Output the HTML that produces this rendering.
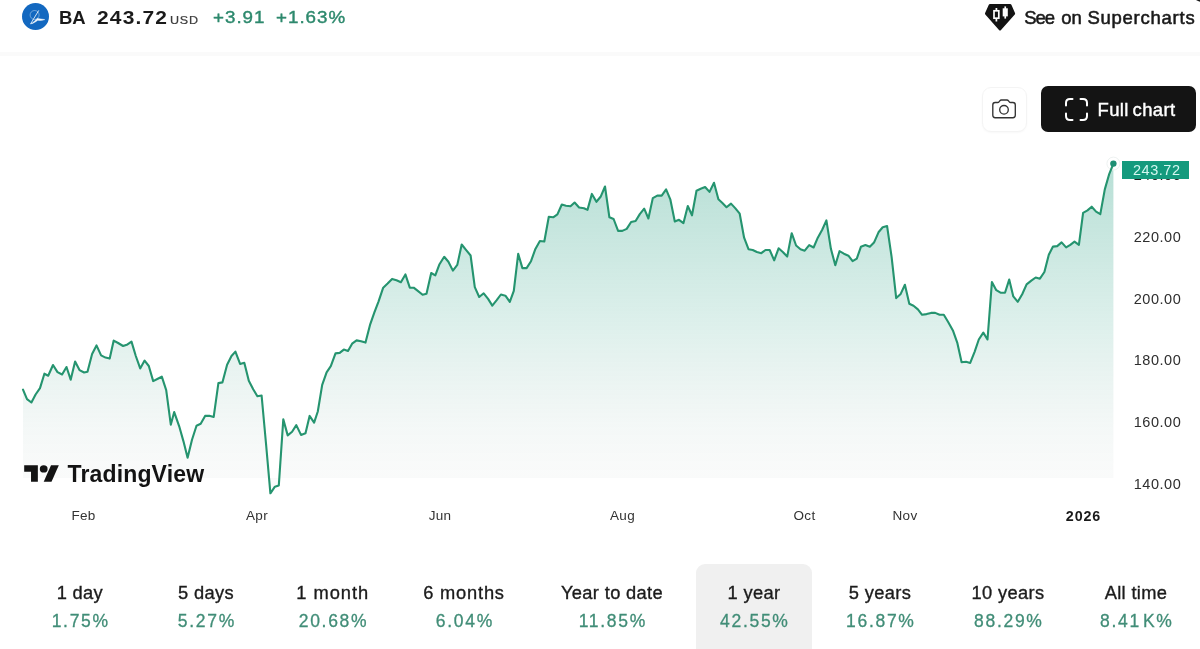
<!DOCTYPE html>
<html><head><meta charset="utf-8">
<style>
html,body{margin:0;padding:0;}
body{width:1200px;height:649px;position:relative;overflow:hidden;background:#fff;font-family:"Liberation Sans",sans-serif;color:#131313;}
.abs{position:absolute;}
#sep{left:0;top:52px;width:1200px;height:4px;background:#fafafa;}
#logo{left:22px;top:3.2px;width:27.2px;height:27.2px;border-radius:50%;background:#1368c0;}
#sym{left:59px;top:4.6px;font-size:18.5px;font-weight:700;line-height:26px;white-space:nowrap;color:#1a1a1a;}
#price{left:96.7px;top:4.6px;font-size:18.5px;font-weight:700;line-height:26px;letter-spacing:1.0px;transform:scaleX(1.135);transform-origin:0 0;white-space:nowrap;color:#1a1a1a;}
#usd{left:170px;top:11.6px;font-size:11px;line-height:16px;letter-spacing:0.7px;transform:scaleX(1.14);transform-origin:0 0;-webkit-text-stroke:0.2px #3c3c3c;color:#3c3c3c;white-space:nowrap;}
#chg{left:213px;top:5.6px;font-size:17px;line-height:24px;letter-spacing:0.9px;transform:scaleX(1.105);transform-origin:0 0;color:#2d896d;white-space:nowrap;-webkit-text-stroke:0.4px #2d896d;}
#chg2{left:276px;top:5.6px;font-size:17px;line-height:24px;letter-spacing:0.9px;transform:scaleX(1.105);transform-origin:0 0;color:#2d896d;white-space:nowrap;-webkit-text-stroke:0.4px #2d896d;}
.sos{top:6px;font-size:18.5px;line-height:24px;white-space:nowrap;color:#1a1a1a;-webkit-text-stroke:0.55px #1a1a1a;letter-spacing:0.4px;}
#cam{left:982px;top:86.5px;width:45px;height:45px;border-radius:9px;border:1px solid #f4f4f4;box-sizing:border-box;background:#fff;box-shadow:0 1px 2px rgba(0,0,0,0.03);}
#full{left:1041.3px;top:86.4px;width:154.5px;height:46px;border-radius:7px;background:#141414;}
#fulltxt{left:1097.5px;top:98px;font-size:18.5px;line-height:24px;color:#fff;white-space:nowrap;-webkit-text-stroke:0.4px #fff;letter-spacing:0.35px;word-spacing:-1.6px;}
#plabel{left:1122px;top:161px;width:66.5px;height:18px;background:#149a7d;color:#d4f7f0;font-size:14.5px;line-height:18.5px;text-align:center;letter-spacing:0.55px;padding-left:3px;box-sizing:border-box;}
.yl{position:absolute;left:1126.5px;width:62px;text-align:center;font-size:14.5px;line-height:20px;color:#2e2e2e;letter-spacing:0.55px;}
.xl{position:absolute;top:506px;width:60px;text-align:center;font-size:13.5px;line-height:20px;color:#333;letter-spacing:0.3px;}
#y2026{left:1053.5px;top:506px;width:60px;text-align:center;font-size:14.3px;font-weight:700;line-height:20px;color:#1a1a1a;letter-spacing:0.9px;}
#tvtxt{left:67.5px;top:460px;font-size:23px;font-weight:700;line-height:28px;white-space:nowrap;color:#131313;letter-spacing:0.15px;}
#selbox{left:696px;top:564px;width:116px;height:100px;border-radius:9px;background:#f0f0f0;}
.per{position:absolute;top:581px;width:140px;text-align:center;white-space:nowrap;}
.pl{font-size:18.3px;line-height:24px;color:#1c1c1c;-webkit-text-stroke:0.35px #1c1c1c;letter-spacing:0.35px;}
.pv{font-size:17.5px;line-height:24px;margin-top:4px;color:#418d77;letter-spacing:1.7px;padding-left:1.7px;-webkit-text-stroke:0.3px #418d77;}
#corner{left:1188px;top:-14px;width:30px;height:22px;border-radius:0 0 0 0;}
#wrap{position:absolute;left:0;top:0;width:1200px;height:649px;overflow:hidden;will-change:transform;transform:translateZ(0);}
</style></head><body><div id="wrap">
<div class="abs" id="sep"></div>
<div class="abs" id="logo"></div>
<svg class="abs" style="left:21.5px;top:3px" width="28" height="28" viewBox="0 0 28 28">
<circle cx="12.6" cy="12" r="4.5" fill="none" stroke="#fff" stroke-opacity="0.38" stroke-width="1"/>
<path d="M8.8 20.5 L16.6 7.7" fill="none" stroke="#fff" stroke-opacity="0.8" stroke-width="1" stroke-linecap="round"/>
<path d="M8.6 20.9 C11.4 19.6 13.4 17.2 15.4 15.2 C17.6 16 20.2 16 22.8 16.6 C20.2 17.6 17.8 17.6 15.8 17.2 C13.6 19 11.4 20.4 8.6 20.9 Z" fill="#fff" fill-opacity="0.95" stroke="#fff" stroke-width="0.5" stroke-opacity="0.8"/>
</svg>
<div class="abs" id="sym">BA</div>
<div class="abs" id="price">243.72</div>
<div class="abs" id="usd">USD</div>
<div class="abs" id="chg">+3.91</div>
<div class="abs" id="chg2">+1.63%</div>

<svg class="abs" style="left:984px;top:3px" width="34" height="30" viewBox="0 0 34 30">
<path d="M6 1.1 H26.2 Q27 1.1 27.4 1.8 L31 10 Q31.4 10.9 30.8 11.6 L17 26.9 Q16 27.9 15 26.9 L1.3 11.6 Q0.7 10.9 1.1 10 L4.8 1.8 Q5.2 1.1 6 1.1 Z" fill="#131313"/>
<rect x="10" y="7.8" width="4.8" height="7.4" fill="none" stroke="#fff" stroke-width="1.7"/>
<path d="M12.4 5 V7.8 M12.4 15.2 V18.4" stroke="#fff" stroke-width="1.7"/>
<rect x="18.7" y="5.3" width="5.1" height="8.1" fill="#fff"/>
<path d="M21.25 3.4 V15.6" stroke="#fff" stroke-width="1.7"/>
</svg>
<div class="abs sos" style="left:1024.3px;letter-spacing:-1.15px">See</div><div class="abs sos" style="left:1061.2px;letter-spacing:-0.1px">on</div><div class="abs sos" style="left:1087.4px;letter-spacing:0.75px">Supercharts</div>

<div class="abs" id="cam"></div>
<svg class="abs" style="left:990px;top:97px" width="29" height="25" viewBox="0 0 29 25">
<path d="M5.2 5.5 H7.6 Q8.6 5.5 9.2 4.6 L9.8 3.8 Q10.4 3 11.4 3 H16.9 Q17.9 3 18.5 3.8 L19.1 4.6 Q19.7 5.5 20.7 5.5 H22.9 Q25.3 5.5 25.3 7.9 V18.3 Q25.3 20.7 22.9 20.7 H5.2 Q2.8 20.7 2.8 18.3 V7.9 Q2.8 5.5 5.2 5.5 Z" fill="none" stroke="#333" stroke-width="1.35" stroke-linejoin="round"/>
<circle cx="14" cy="12.8" r="4.3" fill="none" stroke="#333" stroke-width="1.35"/>
</svg>
<div class="abs" id="full"></div>
<svg class="abs" style="left:1064px;top:97px" width="25" height="25" viewBox="0 0 25 25">
<path d="M2 8.5 V6 Q2 2 6 2 H8.5 M16.5 2 H19 Q23 2 23 6 V8.5 M23 16.5 V19 Q23 23 19 23 H16.5 M8.5 23 H6 Q2 23 2 19 V16.5" fill="none" stroke="#fff" stroke-width="2" stroke-linecap="round"/>
</svg>
<div class="abs" id="fulltxt">Full chart</div>

<svg class="abs" style="left:0;top:0" width="1200" height="649" viewBox="0 0 1200 649">
<defs>
<linearGradient id="g" gradientUnits="userSpaceOnUse" x1="0" y1="160" x2="0" y2="495">
<stop offset="0" stop-color="#1c9a7c" stop-opacity="0.32"/>
<stop offset="0.5" stop-color="#1c9a7c" stop-opacity="0.145"/>
<stop offset="0.8" stop-color="#4a8a7c" stop-opacity="0.06"/>
<stop offset="1" stop-color="#808a88" stop-opacity="0.03"/>
</linearGradient>
</defs>
<path d="M23.0,478 L23.0,389.7 L27.0,399.1 L31.4,402.5 L35.6,394.5 L40.0,388.1 L44.4,373.7 L48.2,375.7 L53.0,365.0 L57.5,372.1 L62.1,374.5 L66.5,367.0 L70.7,379.7 L75.1,361.6 L79.5,370.1 L84.1,372.5 L87.5,371.7 L92.1,354.0 L96.5,345.4 L101.1,355.4 L105.5,357.6 L109.7,358.6 L113.7,340.6 L118.1,343.0 L123.1,346.0 L127.5,344.4 L131.5,341.6 L135.8,356.0 L140.2,368.4 L144.6,360.6 L148.8,366.0 L153.2,381.1 L157.8,378.7 L161.8,376.7 L166.2,390.1 L170.8,424.7 L174.2,412.1 L179.2,426.3 L183.4,441.1 L187.6,457.8 L192.0,439.8 L196.5,425.8 L200.7,423.8 L205.1,415.9 L209.3,415.7 L213.7,416.9 L218.4,383.1 L222.4,382.4 L227.1,364.7 L231.5,356.0 L235.4,351.6 L240.1,363.9 L244.3,362.7 L248.8,380.7 L253.2,389.3 L257.4,396.2 L261.6,395.5 L266.0,443.5 L270.4,493.3 L274.9,486.7 L278.8,485.5 L283.3,419.4 L287.7,435.4 L292.1,431.7 L296.3,425.1 L301.0,434.9 L305.5,433.2 L309.6,415.9 L314.1,422.6 L317.8,411.5 L322.2,384.8 L326.6,372.3 L330.8,366.2 L335.5,353.4 L339.7,352.9 L343.8,349.6 L348.0,351.0 L352.1,343.7 L356.6,340.4 L361.0,341.2 L365.5,342.6 L370.2,324.3 L374.3,312.7 L378.5,301.6 L383.2,287.7 L387.6,283.6 L392.1,278.9 L396.5,280.2 L400.9,282.2 L405.4,274.4 L409.8,287.7 L413.7,287.7 L418.1,291.1 L422.6,294.7 L426.5,293.8 L431.2,273.0 L435.3,275.3 L439.5,264.2 L444.2,256.8 L448.4,261.7 L452.9,270.6 L457.3,264.9 L461.7,244.5 L466.2,250.1 L470.6,255.5 L474.8,287.1 L479.2,297.0 L483.7,293.3 L488.1,298.9 L492.3,305.6 L496.7,300.2 L500.9,294.5 L505.4,295.7 L509.8,301.9 L513.8,290.8 L518.2,253.8 L522.4,268.1 L526.6,268.1 L531.0,261.2 L535.4,248.9 L539.9,241.0 L544.3,241.5 L548.8,216.8 L553.2,217.3 L557.4,214.4 L561.8,204.5 L566.0,205.7 L570.5,206.2 L574.6,202.5 L579.1,207.5 L584.0,208.2 L587.5,209.9 L591.9,193.9 L596.4,201.8 L600.6,196.8 L605.0,186.5 L609.4,217.3 L613.6,219.0 L618.1,230.9 L622.3,230.9 L626.7,228.9 L631.1,222.0 L635.6,221.0 L639.8,214.1 L644.2,208.7 L648.4,218.5 L652.8,198.1 L657.3,195.6 L661.7,195.6 L666.1,189.4 L670.3,199.3 L674.8,221.5 L679.0,219.8 L683.4,223.2 L687.8,206.0 L692.0,215.3 L696.5,190.7 L700.7,188.7 L705.1,187.0 L709.5,191.9 L714.0,182.8 L718.4,199.3 L722.4,203.0 L726.5,207.2 L731.0,203.6 L735.2,208.1 L739.7,213.7 L744.1,237.7 L748.5,249.2 L752.7,250.0 L756.9,252.0 L761.3,253.2 L765.5,250.0 L769.7,250.0 L774.2,260.3 L778.6,248.3 L782.8,252.0 L787.2,256.6 L791.7,233.2 L796.1,245.5 L800.5,249.2 L804.7,250.7 L809.2,245.1 L813.6,247.5 L817.8,237.7 L822.2,229.8 L826.4,220.4 L830.9,248.8 L835.3,265.3 L839.5,251.2 L843.9,253.7 L848.4,255.7 L852.6,261.1 L856.8,258.6 L860.9,246.8 L865.4,245.1 L869.8,246.8 L874.0,242.6 L878.5,232.3 L882.7,227.3 L887.1,226.1 L891.6,256.9 L896.2,298.1 L900.7,293.9 L904.9,284.8 L909.3,303.8 L913.5,305.7 L917.9,309.4 L922.1,314.8 L926.6,314.1 L931.0,312.9 L935.2,312.9 L939.6,314.8 L943.8,314.8 L948.3,322.2 L952.9,330.4 L957.4,343.2 L961.6,362.2 L966.0,361.7 L970.2,362.9 L974.6,351.8 L978.8,339.5 L983.3,332.6 L987.5,339.5 L991.9,282.1 L996.3,290.2 L1000.5,292.7 L1005.0,292.7 L1009.2,279.6 L1013.3,296.4 L1017.8,301.8 L1022.2,294.2 L1026.6,284.4 L1031.3,280.7 L1035.7,277.5 L1039.9,278.7 L1044.4,272.0 L1048.8,254.8 L1053.0,246.6 L1057.2,246.1 L1061.6,242.4 L1066.1,247.4 L1070.3,244.9 L1074.5,241.7 L1078.9,244.9 L1083.1,212.9 L1087.5,210.4 L1091.7,206.7 L1096.1,211.6 L1100.3,214.1 L1104.8,189.4 L1109.0,174.7 L1113.4,163.6 L1113.4,478 Z" fill="url(#g)"/>
<circle cx="1113.4" cy="163.6" r="6.5" fill="#fff" fill-opacity="0.7" stroke="#edf1f0" stroke-width="1"/>
<polyline points="23.0,389.7 27.0,399.1 31.4,402.5 35.6,394.5 40.0,388.1 44.4,373.7 48.2,375.7 53.0,365.0 57.5,372.1 62.1,374.5 66.5,367.0 70.7,379.7 75.1,361.6 79.5,370.1 84.1,372.5 87.5,371.7 92.1,354.0 96.5,345.4 101.1,355.4 105.5,357.6 109.7,358.6 113.7,340.6 118.1,343.0 123.1,346.0 127.5,344.4 131.5,341.6 135.8,356.0 140.2,368.4 144.6,360.6 148.8,366.0 153.2,381.1 157.8,378.7 161.8,376.7 166.2,390.1 170.8,424.7 174.2,412.1 179.2,426.3 183.4,441.1 187.6,457.8 192.0,439.8 196.5,425.8 200.7,423.8 205.1,415.9 209.3,415.7 213.7,416.9 218.4,383.1 222.4,382.4 227.1,364.7 231.5,356.0 235.4,351.6 240.1,363.9 244.3,362.7 248.8,380.7 253.2,389.3 257.4,396.2 261.6,395.5 266.0,443.5 270.4,493.3 274.9,486.7 278.8,485.5 283.3,419.4 287.7,435.4 292.1,431.7 296.3,425.1 301.0,434.9 305.5,433.2 309.6,415.9 314.1,422.6 317.8,411.5 322.2,384.8 326.6,372.3 330.8,366.2 335.5,353.4 339.7,352.9 343.8,349.6 348.0,351.0 352.1,343.7 356.6,340.4 361.0,341.2 365.5,342.6 370.2,324.3 374.3,312.7 378.5,301.6 383.2,287.7 387.6,283.6 392.1,278.9 396.5,280.2 400.9,282.2 405.4,274.4 409.8,287.7 413.7,287.7 418.1,291.1 422.6,294.7 426.5,293.8 431.2,273.0 435.3,275.3 439.5,264.2 444.2,256.8 448.4,261.7 452.9,270.6 457.3,264.9 461.7,244.5 466.2,250.1 470.6,255.5 474.8,287.1 479.2,297.0 483.7,293.3 488.1,298.9 492.3,305.6 496.7,300.2 500.9,294.5 505.4,295.7 509.8,301.9 513.8,290.8 518.2,253.8 522.4,268.1 526.6,268.1 531.0,261.2 535.4,248.9 539.9,241.0 544.3,241.5 548.8,216.8 553.2,217.3 557.4,214.4 561.8,204.5 566.0,205.7 570.5,206.2 574.6,202.5 579.1,207.5 584.0,208.2 587.5,209.9 591.9,193.9 596.4,201.8 600.6,196.8 605.0,186.5 609.4,217.3 613.6,219.0 618.1,230.9 622.3,230.9 626.7,228.9 631.1,222.0 635.6,221.0 639.8,214.1 644.2,208.7 648.4,218.5 652.8,198.1 657.3,195.6 661.7,195.6 666.1,189.4 670.3,199.3 674.8,221.5 679.0,219.8 683.4,223.2 687.8,206.0 692.0,215.3 696.5,190.7 700.7,188.7 705.1,187.0 709.5,191.9 714.0,182.8 718.4,199.3 722.4,203.0 726.5,207.2 731.0,203.6 735.2,208.1 739.7,213.7 744.1,237.7 748.5,249.2 752.7,250.0 756.9,252.0 761.3,253.2 765.5,250.0 769.7,250.0 774.2,260.3 778.6,248.3 782.8,252.0 787.2,256.6 791.7,233.2 796.1,245.5 800.5,249.2 804.7,250.7 809.2,245.1 813.6,247.5 817.8,237.7 822.2,229.8 826.4,220.4 830.9,248.8 835.3,265.3 839.5,251.2 843.9,253.7 848.4,255.7 852.6,261.1 856.8,258.6 860.9,246.8 865.4,245.1 869.8,246.8 874.0,242.6 878.5,232.3 882.7,227.3 887.1,226.1 891.6,256.9 896.2,298.1 900.7,293.9 904.9,284.8 909.3,303.8 913.5,305.7 917.9,309.4 922.1,314.8 926.6,314.1 931.0,312.9 935.2,312.9 939.6,314.8 943.8,314.8 948.3,322.2 952.9,330.4 957.4,343.2 961.6,362.2 966.0,361.7 970.2,362.9 974.6,351.8 978.8,339.5 983.3,332.6 987.5,339.5 991.9,282.1 996.3,290.2 1000.5,292.7 1005.0,292.7 1009.2,279.6 1013.3,296.4 1017.8,301.8 1022.2,294.2 1026.6,284.4 1031.3,280.7 1035.7,277.5 1039.9,278.7 1044.4,272.0 1048.8,254.8 1053.0,246.6 1057.2,246.1 1061.6,242.4 1066.1,247.4 1070.3,244.9 1074.5,241.7 1078.9,244.9 1083.1,212.9 1087.5,210.4 1091.7,206.7 1096.1,211.6 1100.3,214.1 1104.8,189.4 1109.0,174.7 1113.4,163.6" fill="none" stroke="#25946f" stroke-width="2.1" stroke-linejoin="round" stroke-linecap="round"/>
<circle cx="1113.4" cy="163.6" r="3.2" fill="#1f8f74"/>
<g transform="translate(24.2,461.64) scale(0.975,0.915)" fill="#131313">
<path d="M14 22H7V11H0V4h14v18z"/><circle cx="20" cy="8" r="4"/><path d="M28 22h-8l7.5-18h8L28 22z"/>
</g>
</svg>
<div class="abs yl" style="top:164.6px;color:#222">240.00</div>
<div class="yl" style="top:227.3px">220.00</div><div class="yl" style="top:288.9px">200.00</div><div class="yl" style="top:350.2px">180.00</div><div class="yl" style="top:411.6px">160.00</div><div class="yl" style="top:473.5px">140.00</div>
<div class="abs" id="plabel">243.72</div>
<div class="xl" style="left:53.5px">Feb</div><div class="xl" style="left:227px">Apr</div><div class="xl" style="left:410px">Jun</div><div class="xl" style="left:592.5px">Aug</div><div class="xl" style="left:774.5px">Oct</div><div class="xl" style="left:875px">Nov</div>
<div class="abs" id="y2026">2026</div>
<div class="abs" id="tvtxt">TradingView</div>
<div class="abs" id="selbox"></div>
<div class="per" style="left:9.900000000000006px"><div class="pl">1 day</div><div class="pv">1.75%</div></div>
<div class="per" style="left:136px"><div class="pl">5 days</div><div class="pv">5.27%</div></div>
<div class="per" style="left:262.7px"><div class="pl"><span style="letter-spacing:1px">1 month</span></div><div class="pv">20.68%</div></div>
<div class="per" style="left:394px"><div class="pl"><span style="letter-spacing:0.8px">6 months</span></div><div class="pv">6.04%</div></div>
<div class="per" style="left:542px"><div class="pl">Year to date</div><div class="pv">11.85%</div></div>
<div class="per" style="left:684px"><div class="pl">1 year</div><div class="pv">42.55%</div></div>
<div class="per" style="left:810px"><div class="pl">5 years</div><div class="pv">16.87%</div></div>
<div class="per" style="left:938px"><div class="pl">10 years</div><div class="pv">88.29%</div></div>
<div class="per" style="left:1066px"><div class="pl">All time</div><div class="pv">8.41<span style="margin-left:2px">K%</span></div></div>

<svg class="abs" style="left:1180px;top:0" width="20" height="12" viewBox="0 0 20 12"><path d="M16 0 Q18 1.2 20 1.7 V0 Z" fill="#1a1a1a"/></svg>
</div></body></html>
